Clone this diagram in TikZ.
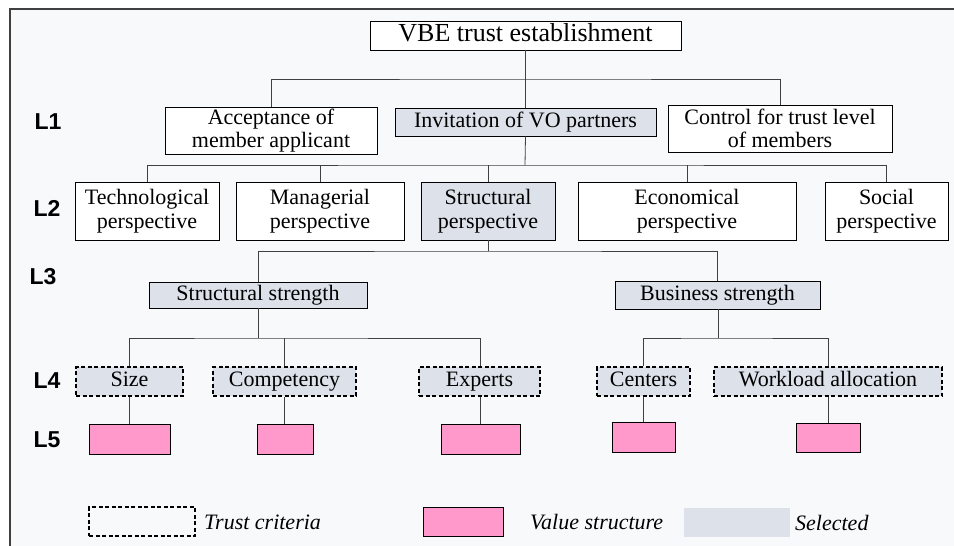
\documentclass[tikz,border=0pt]{standalone}
\usepackage{fontspec}
\setmainfont{Liberation Serif}
\newfontfamily\labfont{Liberation Sans}
\definecolor{panel}{HTML}{F8F9FB}
\definecolor{framec}{HTML}{404040}
\definecolor{selfill}{HTML}{DCE1EA}
\definecolor{valfill}{HTML}{FF99CC}
\definecolor{linec}{HTML}{404040}
\tikzset{
  box/.style={draw=black, line width=0.8pt, fill=white, inner sep=0pt, align=center,
    font=\fontsize{22}{23.5}\selectfont},
  one/.style={text height=15pt, text depth=5pt},
  sel/.style={box, fill=selfill},
  crit/.style={sel, one, draw=black, line width=2pt, dash pattern=on 4pt off 2.5pt},
  valbox/.style={draw=black, line width=0.8pt, fill=valfill, inner sep=0pt},
  lev/.style={font=\labfont\bfseries\fontsize{23}{24}\selectfont, inner sep=0pt},
  legtxt/.style={font=\itshape\fontsize{22}{24}\selectfont, anchor=west, inner sep=0pt},
  conn/.style={draw=linec, line width=0.8pt},
}
% place a box by its corners: (x1,y1) top-left, (x2,y2) bottom-right
\newcommand{\pbox}[7]{%
  \node[#1, minimum width=#4-#2, minimum height=#5-#3] (#6) at ({(#2+#4)/2},{(#3+#5)/2}) {#7};}
\begin{document}
\begin{tikzpicture}[x=1pt,y=-1pt]
\useasboundingbox (0,0) rectangle (954,546);
\fill[white] (0,0) rectangle (954,546);
\fill[panel] (10,9) rectangle (954,546);
\draw[framec, line width=1.2pt] (10,546) -- (10,9) -- (954,9);

% levels
\node[lev] (l1) at (48,122) {L1};
\node[lev] (l2) at (47,208) {L2};
\node[lev] (l3) at (43,277) {L3};
\node[lev] (l4) at (47,381) {L4};
\node[lev] (l5) at (47,440) {L5};

% root
\pbox{box, font=\fontsize{26}{28}\selectfont, text height=18pt, text depth=6pt}{370}{21}{681}{50}{root}{VBE trust establishment}

% L1
\pbox{box}{165}{107}{377}{154}{acc}{Acceptance of\\member applicant}
\pbox{sel, one}{395}{108}{656}{136}{inv}{Invitation of VO partners}
\pbox{box}{668}{105}{892}{152}{ctl}{Control for trust level\\of members}

% L2
\pbox{box}{75}{182}{219}{240}{tech}{Technological\\perspective}
\pbox{box}{236}{182}{404}{240}{man}{Managerial\\perspective}
\pbox{sel}{421}{182}{555}{240}{str}{Structural\\perspective}
\pbox{box}{578}{182}{796}{240}{eco}{Economical\\perspective}
\pbox{box}{825}{182}{948}{240}{soc}{Social\\perspective}

% L3
\pbox{sel, one}{149}{282}{367}{308}{sstr}{Structural strength}
\pbox{sel, one}{615}{281}{820}{309}{bstr}{Business strength}

% L4
\pbox{crit}{76}{367}{183}{396}{size}{Size}
\pbox{crit}{213}{367}{356}{396}{comp}{Competency}
\pbox{crit}{419}{367}{540}{396}{exp}{Experts}
\pbox{crit}{597}{367}{690}{396}{cent}{Centers}
\pbox{crit}{714}{367}{942}{396}{work}{Workload allocation}

% L5
\pbox{valbox}{89}{424}{170}{454}{v1}{}
\pbox{valbox}{257}{424}{313}{454}{v2}{}
\pbox{valbox}{441}{424}{520}{454}{v3}{}
\pbox{valbox}{612}{422}{675}{452}{v4}{}
\pbox{valbox}{796}{423}{860}{452}{v5}{}

% connectors
\coordinate (b0) at (525,79);
\draw[conn] (root.south) -- (inv.north);
\draw[conn] (acc.north) |- (b0) -| (ctl.north);

\coordinate (b1) at (525,165);
\draw[conn] (inv.south) -- (b1);
\draw[conn] (tech.north -| 147,0) |- (b1) -| (soc.north -| 886,0);
\draw[conn] (man.north -| 320,0) -- (320,165);
\draw[conn] (str.north -| 488,0) -- (488,165);
\draw[conn] (eco.north -| 687,0) -- (687,165);

\coordinate (b2) at (488,251);
\draw[conn] (str.south -| 488,0) -- (b2);
\draw[conn] (sstr.north) |- (b2) -| (bstr.north);

\coordinate (b3) at (258,338);
\draw[conn] (sstr.south) -- (b3);
\draw[conn] (size.north -| 129,0) |- (b3) -| (exp.north -| 480,0);
\draw[conn] (comp.north -| 284,0) -- (284,338);

\coordinate (b4) at (718,338);
\draw[conn] (bstr.south -| 718,0) -- (b4);
\draw[conn] (cent.north -| 643,0) |- (b4) -| (work.north -| 828,0);

\draw[conn] (size.south -| 129,0) -- (v1.north -| 129,0);
\draw[conn] (comp.south -| 284,0) -- (v2.north -| 284,0);
\draw[conn] (exp.south -| 480,0) -- (v3.north -| 480,0);
\draw[conn] (cent.south -| 643,0) -- (v4.north -| 643,0);
\draw[conn] (work.south -| 828,0) -- (v5.north -| 828,0);

% legend
\pbox{crit, fill=none}{89}{507}{195}{536}{lgc}{}
\node[legtxt] (lgct) at (204,522) {Trust criteria};
\pbox{valbox}{423}{507}{503}{536}{lgv}{}
\node[legtxt] (lgvt) at (530,522) {Value structure};
\fill[selfill] (684,508) rectangle (790,537);
\node[legtxt] (lgst) at (795,523) {Selected};
\end{tikzpicture}
\end{document}
